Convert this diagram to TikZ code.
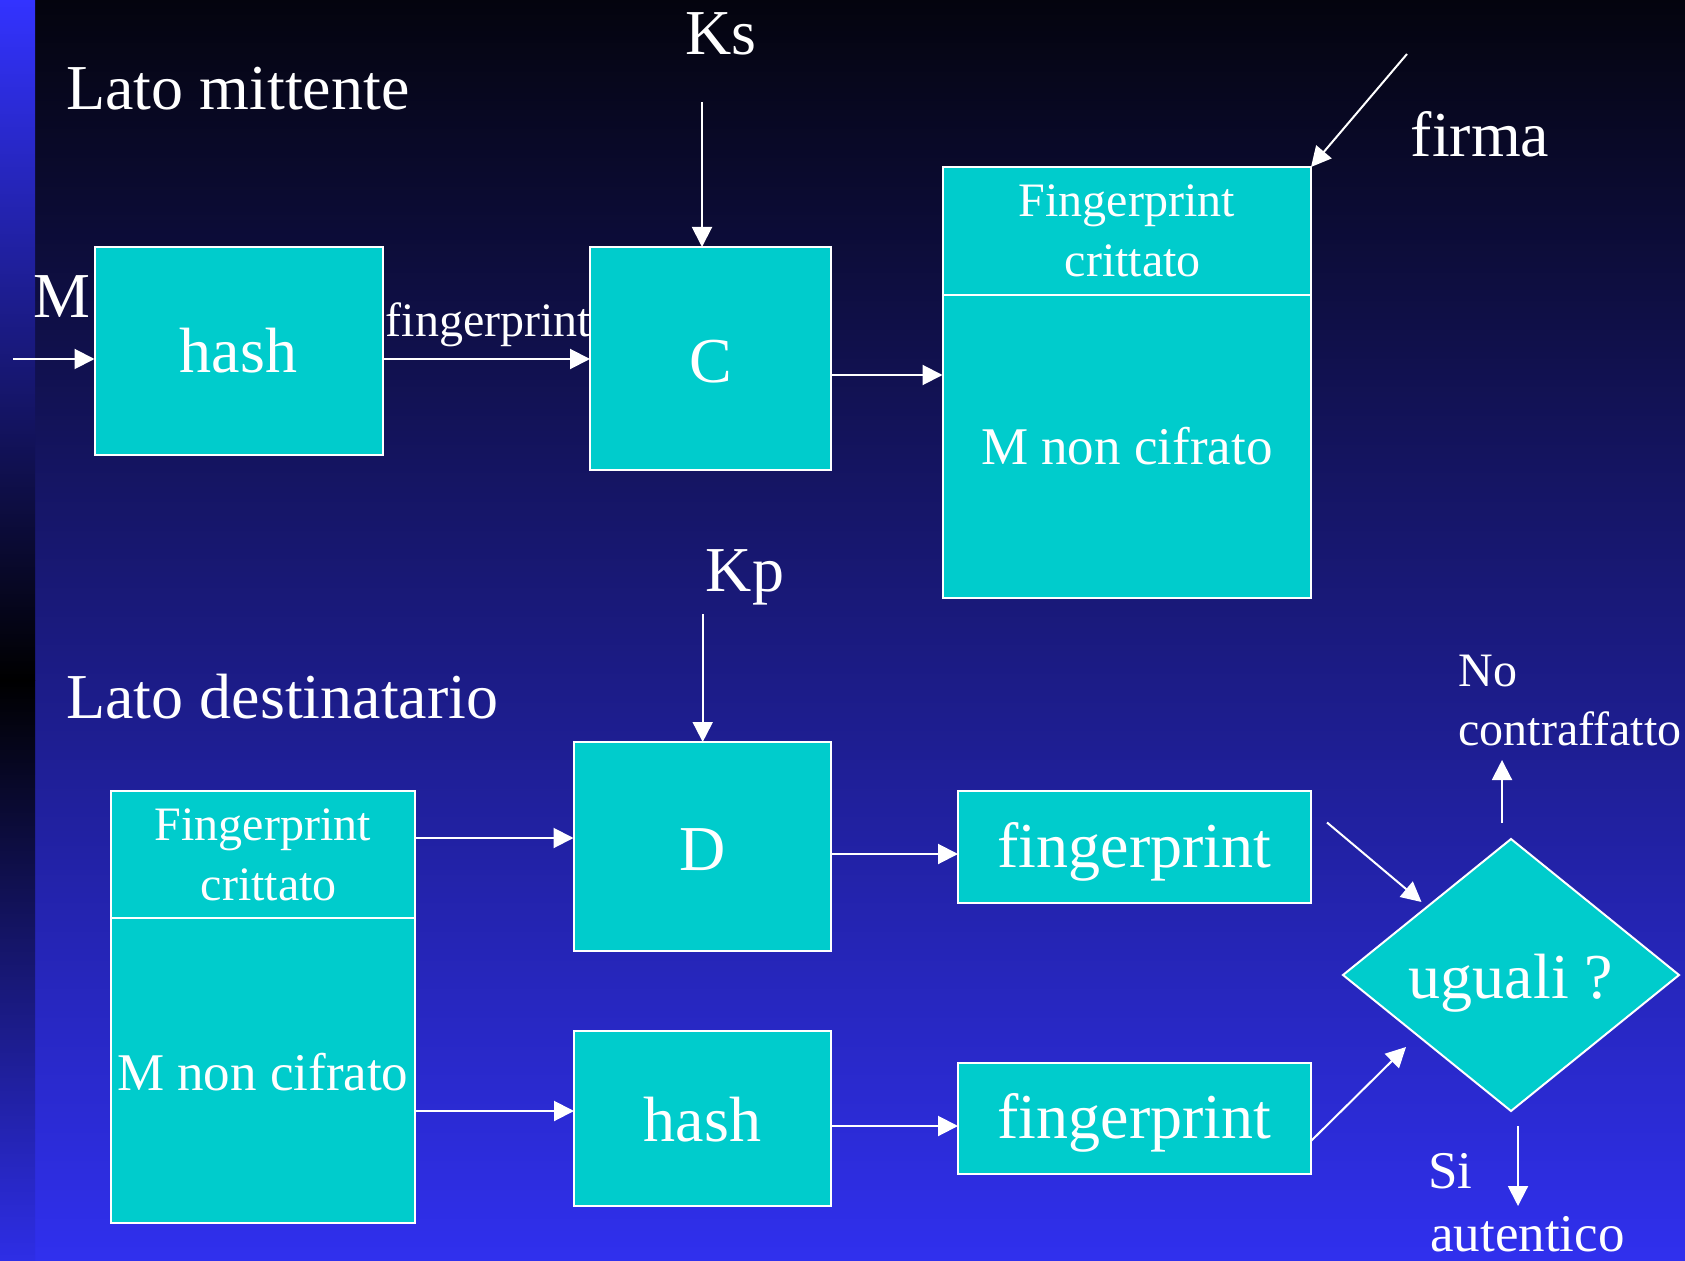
\documentclass[tikz,border=0pt]{standalone}
\usepackage{fontspec}
\setmainfont{Liberation Serif}
\usepackage{tikz}
\usetikzlibrary{positioning, arrows.meta, shapes.geometric}

\definecolor{boxcyan}{RGB}{0,204,204}
\definecolor{bgtop}{RGB}{4,4,14}
\definecolor{bgmid}{RGB}{28,28,145}
\definecolor{bgbot}{RGB}{48,48,238}
\definecolor{striptop}{RGB}{51,51,255}
\definecolor{stripbot}{RGB}{46,46,230}

\tikzset{
  txtbig/.style={font=\fontsize{32}{38}\selectfont},
  txtmid/.style={font=\fontsize{26.5}{31.5}\selectfont},
  txtsmall/.style={font=\fontsize{24}{30}\selectfont},
  block/.style={draw=white, line width=1pt, fill=boxcyan, inner sep=0pt, outer sep=0pt, text depth=0pt},
  arr/.style={draw=white, line width=1pt, -{Triangle[length=10pt,width=10pt]}}
}

\begin{document}
\begin{tikzpicture}[x=0.5pt, y=-0.5pt, text=white, inner sep=0pt]
    \useasboundingbox (0,0) rectangle (1685,1261);

    % draw the background
    \shade[top color=bgtop, middle color=bgmid, bottom color=bgbot] (35,0) rectangle (1685,1261);
    \shade[top color=striptop, bottom color=black] (0,0) rectangle (35,680);
    \shade[top color=black, bottom color=stripbot] (0,680) rectangle (35,1261);

    % Lato mittente
    \node[txtbig, anchor=base west] (sender) at (66,110) {Lato mittente};
    \node[txtbig, anchor=base] (ks) at (721,55) {Ks};
    \node[txtbig, anchor=base] (mlabel) at (62,318) {M};

    % draw the sender boxes
    \node[block, txtbig, minimum width=144.1pt, minimum height=103.8pt, text height=22pt] (hashA) at (238.6,350.8) {hash};
    \node[block, txtbig, minimum width=120.35pt, minimum height=111.75pt, text height=24pt] (C) at (710.35,358.75) {C};
    \node[block, txtsmall, align=center, minimum width=184.25pt, minimum height=64pt] (sigtop) at (1126.75,231) {Fingerprint\\\hspace*{0.25em}crittato};
    \node[block, txtmid, minimum width=184.25pt, minimum height=151.5pt, text height=18.5pt, below=0pt of sigtop] (sigbot) {M non cifrato};

    \node[txtsmall, anchor=base] (fplabel) at (488.5,337) {fingerprint};
    \node[txtbig, anchor=base] (firma) at (1480,157) {firma};

    % draw the sender arrows
    \coordinate (min) at (13,359);
    \coordinate (kstail) at (702,102);
    \coordinate (firmatail) at (1407,54);
    \coordinate (rowC) at (0,375);
    \draw[arr] (min) -- (min -| hashA.west);
    \draw[arr] (hashA.east |- min) -- (C.west |- min);
    \draw[arr] (kstail) -- (kstail |- C.north);
    \draw[arr] (C.east |- rowC) -- (sigbot.west |- rowC);
    \draw[arr] (firmatail) -- (sigtop.north east);

    % Lato destinatario
    \node[txtbig, anchor=base] (kp) at (745,591) {Kp};
    \node[txtbig, anchor=base west] (receiver) at (66,718) {Lato destinatario};

    % draw the receiver boxes
    \node[block, txtsmall, align=center, minimum width=152.25pt, minimum height=63.5pt] (rtop) at (262.75,854.5) {Fingerprint\\\hspace*{0.25em}crittato};
    \node[block, txtmid, minimum width=152.25pt, minimum height=152.5pt, text height=19.5pt, below=0pt of rtop] (rbot) {M non cifrato};
    \node[block, txtbig, minimum width=128.75pt, minimum height=104.5pt, text height=23.5pt] (D) at (702.25,846.5) {D};
    \node[block, txtbig, minimum width=128.5pt, minimum height=87.5pt, text height=23pt] (hashB) at (702.5,1118) {hash};
    \node[block, txtbig, minimum width=176.5pt, minimum height=56pt, text height=20pt] (fpA) at (1134.5,847) {fingerprint};
    \node[block, txtbig, minimum width=176.5pt, minimum height=55.25pt, text height=20pt] (fpB) at (1134.5,1118.25) {fingerprint};
    \node[block, txtbig, shape=diamond, minimum width=168pt, minimum height=136pt, text height=23pt] (cmp) at (1511,975) {uguali ?};

    % draw the receiver arrows
    \coordinate (kptail) at (702.7,614);
    \coordinate (rowA) at (0,838);
    \coordinate (rowB) at (0,1111);
    \coordinate (rowD) at (0,854);
    \coordinate (rowH) at (0,1126);
    \draw[arr] (kptail) -- (kptail |- D.north);
    \draw[arr] (rtop.east |- rowA) -- (D.west |- rowA);
    \draw[arr] (rbot.east |- rowB) -- (hashB.west |- rowB);
    \draw[arr] (D.east |- rowD) -- (fpA.west |- rowD);
    \draw[arr] (hashB.east |- rowH) -- (fpB.west |- rowH);

    % draw the comparison arrows
    \coordinate (fpAout) at (1327,822.5);
    \coordinate (cmpinA) at (1421.5,902);
    \coordinate (fpBout) at (1311,1141);
    \coordinate (cmpinB) at (1406,1047);
    \draw[arr] (fpAout) -- (cmpinA);
    \draw[arr] (fpBout) -- (cmpinB);

    % draw the outcomes
    \coordinate (notail) at (1502,823);
    \coordinate (nohead) at (1502,760);
    \coordinate (sitail) at (1518,1126);
    \coordinate (sihead) at (1518,1206);
    \draw[arr] (notail) -- (nohead);
    \draw[arr] (sitail) -- (sihead);
    \node[txtsmall, anchor=base west] (no) at (1458,686) {No};
    \node[txtsmall, anchor=base west] (forged) at (1458,745) {contraffatto};
    \node[txtmid, anchor=base west] (si) at (1428,1188) {Si};
    \node[txtmid, anchor=base west] (auth) at (1430,1251) {autentico};

\end{tikzpicture}
\end{document}
